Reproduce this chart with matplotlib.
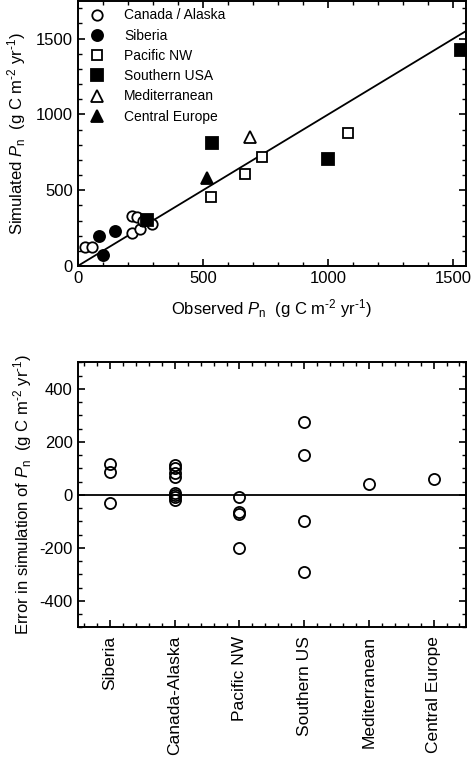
import matplotlib
matplotlib.use("Agg")
import matplotlib.pyplot as plt
from matplotlib.ticker import MultipleLocator

plt.rcParams["font.family"] = ["Liberation Sans", "DejaVu Sans"]
plt.rcParams["mathtext.fontset"] = "custom"
plt.rcParams["mathtext.rm"] = "Liberation Sans"
plt.rcParams["mathtext.it"] = "Liberation Sans:italic"
plt.rcParams["mathtext.bf"] = "Liberation Sans:bold"
plt.rcParams["axes.unicode_minus"] = False

# 上圖：觀測 vs 模擬 Pn
canada_obs = [29, 58, 215, 235, 215, 248, 295, 262]
canada_sim = [126, 126, 331, 321, 215, 241, 274, 300]
siberia_obs = [85, 149, 102]
siberia_sim = [197, 232, 71]
pacific_obs = [531, 669, 737, 1080]
pacific_sim = [457, 605, 722, 877]
southern_obs = [538, 1001, 1530, 275]
southern_sim = [811, 707, 1423, 303]
medit_obs = [689]
medit_sim = [848]
central_obs = [517]
central_sim = [583]
one_to_one = [0, 1550]

# 下圖：各區域模擬誤差
regions = ["Siberia", "Canada-Alaska", "Pacific NW", "Southern US",
           "Mediterranean", "Central Europe"]
errors = [
    [117, 85, -32],
    [112, 100, 84, 68, 5, 0, -7, -18],
    [-9, -66, -72, -200],
    [273, 150, -97, -291],
    [42],
    [61],
]

units = r"  (g C m$^{\text{-2}}$ yr$^{\text{-1}}$)"

fig = plt.figure(figsize=(4.74, 7.6), dpi=100)
ax1 = fig.add_axes([0.164, 0.650, 0.819, 0.349])
ax2 = fig.add_axes([0.164, 0.1746, 0.819, 0.3487])

tick_kw = dict(direction="in", top=True, right=True, labelsize=12)

ms = 7.5
mew = 1.3
ax1.plot(one_to_one, one_to_one, color="black", lw=1.3, zorder=1)
ax1.plot(canada_obs, canada_sim, "o", ms=ms, mfc="white", mec="black", mew=mew, label="Canada / Alaska")
ax1.plot(siberia_obs, siberia_sim, "o", ms=ms + 0.5, mfc="black", mec="black", mew=mew, label="Siberia")
ax1.plot(pacific_obs, pacific_sim, "s", ms=ms, mfc="white", mec="black", mew=mew, label="Pacific NW")
ax1.plot(southern_obs, southern_sim, "s", ms=ms + 0.5, mfc="black", mec="black", mew=mew, label="Southern USA")
ax1.plot(medit_obs, medit_sim, "^", ms=ms + 0.5, mfc="white", mec="black", mew=mew, label="Mediterranean")
ax1.plot(central_obs, central_sim, "^", ms=ms + 1, mfc="black", mec="black", mew=mew, label="Central Europe")

ax1.set_xlim(0, 1550)
ax1.set_ylim(0, 1750)
ax1.xaxis.set_major_locator(MultipleLocator(500))
ax1.xaxis.set_minor_locator(MultipleLocator(100))
ax1.yaxis.set_major_locator(MultipleLocator(500))
ax1.yaxis.set_minor_locator(MultipleLocator(100))
ax1.tick_params(which="major", length=5, width=1.2, **tick_kw)
ax1.tick_params(which="minor", length=3, width=1.0, direction="in", top=True, right=True)
ax1.set_xlabel(r"Observed $P_\mathrm{n}$" + units, fontsize=12, labelpad=8)
ax1.set_ylabel(r"Simulated $P_\mathrm{n}$" + units, fontsize=12, labelpad=6)
leg = ax1.legend(loc="upper left", frameon=False, fontsize=10, handletextpad=1.1,
                 labelspacing=0.45, borderaxespad=0.15, handlelength=1.7)

for i, vals in enumerate(errors):
    ax2.plot([i + 1] * len(vals), vals, "o", ms=8, mfc="none", mec="black", mew=1.3)
ax2.axhline(0, color="black", lw=1.3)
ax2.set_xlim(0.5, 6.5)
ax2.set_ylim(-500, 500)
ax2.set_xticks(range(1, len(regions) + 1))
ax2.set_xticklabels(regions, rotation=90, fontsize=12.5)
ax2.xaxis.set_minor_locator(MultipleLocator(0.2))
ax2.yaxis.set_major_locator(MultipleLocator(200))
ax2.yaxis.set_minor_locator(MultipleLocator(50))
ax2.tick_params(which="major", length=5, width=1.2, **tick_kw)
ax2.tick_params(axis="x", which="major", pad=6, labelsize=12.5)
ax2.tick_params(which="minor", length=3, width=1.0, direction="in", top=True, right=True)
ax2.set_ylabel(r"Error in simulation of $P_\mathrm{n}$" + units, fontsize=12, labelpad=4)

for ax in (ax1, ax2):
    for s in ax.spines.values():
        s.set_linewidth(1.4)

fig.savefig("out.png", dpi=100)
